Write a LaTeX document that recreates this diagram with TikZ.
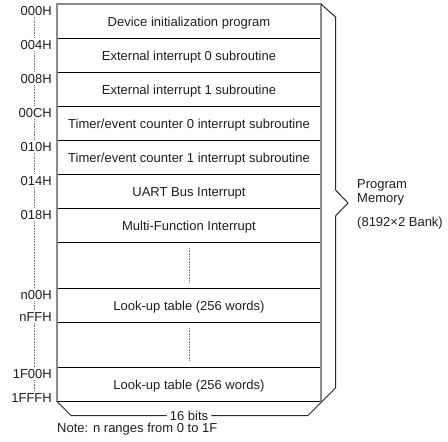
\documentclass[tikz,border=0pt]{standalone}
\usepackage{fontspec}
\setmainfont{Liberation Sans}
\definecolor{txtc}{HTML}{1E1E1E}
\definecolor{boxgray}{HTML}{8A8A8A}
\definecolor{linec}{HTML}{2A2A2A}
\definecolor{dotgray}{HTML}{7A7A7A}
\begin{document}
\begin{tikzpicture}[x=1pt,y=-1pt,
  txt/.style={font=\fontsize{13}{15}\selectfont, text=txtc, inner sep=0pt},
  rowtxt/.style={txt, anchor=base},
  addr/.style={txt, anchor=base east},
  sepline/.style={draw=black, line width=1pt},
  outerline/.style={draw=boxgray, line width=1.6pt},
  dotv/.style={draw=dotgray, line width=0.8pt, dash pattern=on 0.8pt off 0.8pt},
  bracel/.style={draw=linec, line width=1pt, line join=miter}]
\useasboundingbox (0,0) rectangle (448,442);

% separators
\foreach \yy in {38.5,72.5,106.5,140.5,174.5,208.5,242.5,288.5,322.5,367.5,401.5}
  \draw[sepline] (57,\yy) -- (321,\yy);
% outer box
\draw[outerline] (57,401.5) -- (57,4) -- (321,4) -- (321,401.5);

% row texts
\node[rowtxt] (r0) at (189,26) {Device initialization program};
\node[rowtxt] (r1) at (189,60) {External interrupt 0 subroutine};
\node[rowtxt] (r2) at (189,94) {External interrupt 1 subroutine};
\node[rowtxt] (r3) at (189,128) {Timer/event counter 0 interrupt subroutine};
\node[rowtxt] (r4) at (189,162) {Timer/event counter 1 interrupt subroutine};
\node[rowtxt] (r5) at (189,196) {UART Bus Interrupt};
\node[rowtxt] (r6) at (189,230) {Multi-Function Interrupt};
\node[rowtxt] (r7) at (189,310) {Look-up table (256 words)};
\node[rowtxt] (r8) at (189,389) {Look-up table (256 words)};

% dots in blank rows
\coordinate (d1a) at (189.5,248); \coordinate (d1b) at (189.5,282);
\coordinate (d2a) at (189.5,328); \coordinate (d2b) at (189.5,361);
\draw[dotv] (d1a) -- (d1b);
\draw[dotv] (d2a) -- (d2b);

% address labels
\node[addr] (a0) at (52,15) {000H};
\node[addr] (a1) at (52,49) {004H};
\node[addr] (a2) at (52,83) {008H};
\node[addr] (a3) at (52,117) {00CH};
\node[addr] (a4) at (52,151) {010H};
\node[addr] (a5) at (52,185) {014H};
\node[addr] (a6) at (52,219) {018H};
\node[addr] (a7) at (52,299) {n00H};
\node[addr] (a8) at (52,321) {nFFH};
\node[addr] (a9) at (52,378) {1F00H};
\node[addr] (a10) at (52,402) {1FFFH};

\coordinate (dx) at (34.5,0);
\foreach \i/\j in {a0/a1,a1/a2,a2/a3,a3/a4,a4/a5,a5/a6,a6/a7,a7/a8,a8/a9,a9/a10}
  \draw[dotv, shorten <=2pt, shorten >=2pt] (\i.south -| dx) -- (\j.north -| dx);

% 3D bracket
\node[txt, anchor=base] (bits) at (189,420) {16 bits};
\coordinate (bl) at (71,415.5);
\coordinate (br) at (308,415.5);
\draw[bracel] (321,4) -- (335.5,17) -- (335.5,190) -- (348,203) -- (335.5,216)
  -- (335.5,388) -- (br) -- ([xshift=3pt]bits.east |- br);
\draw[bracel] ([xshift=-3pt]bits.west |- bl) -- (bl) -- (57,401.5);

% right labels
\node[txt, anchor=base west] (prog) at (357,188) {Program};
\node[txt, anchor=base west] (mem) at (357,202) {Memory};
\node[txt, anchor=base west] (bank) at (357,226) {(8192×2 Bank)};

% note
\node[txt, anchor=base west] (note) at (57,432) {Note: n ranges from 0 to 1F};
\end{tikzpicture}
\end{document}
